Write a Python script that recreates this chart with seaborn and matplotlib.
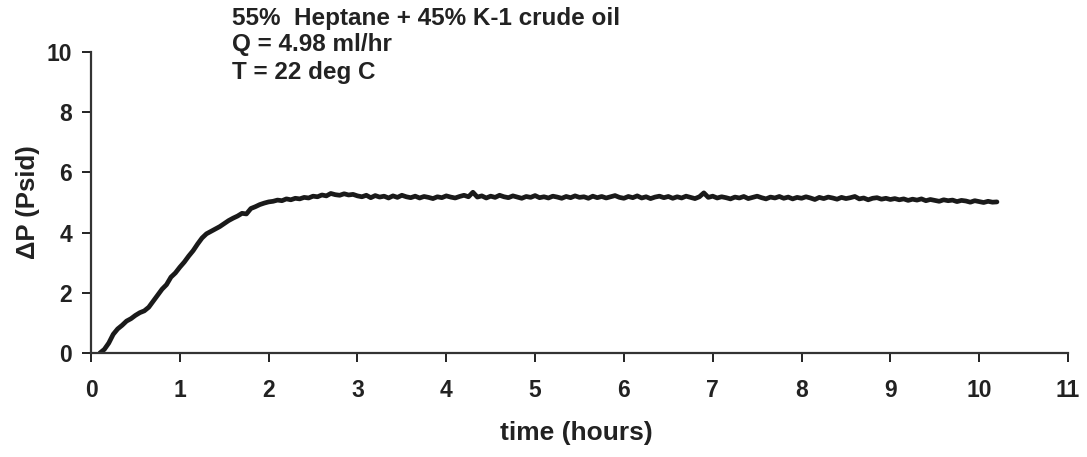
import matplotlib
matplotlib.use("Agg")
import matplotlib.pyplot as plt
import seaborn as sns
import pandas as pd

# ── data (every 0.05 h) ───────────────────────────────────────────────────────
time_h = [
    0.10, 0.15, 0.20, 0.25, 0.30, 0.35, 0.40, 0.45, 0.50, 0.55,
    0.60, 0.65, 0.70, 0.75, 0.80, 0.85, 0.90, 0.95, 1.00, 1.05,
    1.10, 1.15, 1.20, 1.25, 1.30, 1.35, 1.40, 1.45, 1.50, 1.55,
    1.60, 1.65, 1.70, 1.75, 1.80, 1.85, 1.90, 1.95, 2.00, 2.05,
    2.10, 2.15, 2.20, 2.25, 2.30, 2.35, 2.40, 2.45, 2.50, 2.55,
    2.60, 2.65, 2.70, 2.75, 2.80, 2.85, 2.90, 2.95, 3.00, 3.05,
    3.10, 3.15, 3.20, 3.25, 3.30, 3.35, 3.40, 3.45, 3.50, 3.55,
    3.60, 3.65, 3.70, 3.75, 3.80, 3.85, 3.90, 3.95, 4.00, 4.05,
    4.10, 4.15, 4.20, 4.25, 4.30, 4.35, 4.40, 4.45, 4.50, 4.55,
    4.60, 4.65, 4.70, 4.75, 4.80, 4.85, 4.90, 4.95, 5.00, 5.05,
    5.10, 5.15, 5.20, 5.25, 5.30, 5.35, 5.40, 5.45, 5.50, 5.55,
    5.60, 5.65, 5.70, 5.75, 5.80, 5.85, 5.90, 5.95, 6.00, 6.05,
    6.10, 6.15, 6.20, 6.25, 6.30, 6.35, 6.40, 6.45, 6.50, 6.55,
    6.60, 6.65, 6.70, 6.75, 6.80, 6.85, 6.90, 6.95, 7.00, 7.05,
    7.10, 7.15, 7.20, 7.25, 7.30, 7.35, 7.40, 7.45, 7.50, 7.55,
    7.60, 7.65, 7.70, 7.75, 7.80, 7.85, 7.90, 7.95, 8.00, 8.05,
    8.10, 8.15, 8.20, 8.25, 8.30, 8.35, 8.40, 8.45, 8.50, 8.55,
    8.60, 8.65, 8.70, 8.75, 8.80, 8.85, 8.90, 8.95, 9.00, 9.05,
    9.10, 9.15, 9.20, 9.25, 9.30, 9.35, 9.40, 9.45, 9.50, 9.55,
    9.60, 9.65, 9.70, 9.75, 9.80, 9.85, 9.90, 9.95, 10.00, 10.05,
    10.10, 10.15, 10.20,
]
dp_psid = [
    # ramp-up 0.10 - 3.00 h
    0.00, 0.12, 0.33, 0.62, 0.80, 0.92, 1.06, 1.14, 1.25, 1.34,
    1.40, 1.52, 1.72, 1.92, 2.12, 2.27, 2.52, 2.66, 2.85, 3.02,
    3.22, 3.40, 3.62, 3.82, 3.96, 4.04, 4.12, 4.20, 4.30, 4.40,
    4.48, 4.55, 4.64, 4.62, 4.80, 4.86, 4.93, 4.98, 5.02, 5.04,
    5.08, 5.06, 5.12, 5.09, 5.14, 5.12, 5.17, 5.15, 5.21, 5.19,
    5.25, 5.22, 5.30, 5.26, 5.24, 5.29, 5.25, 5.27, 5.22,
    # plateau 3.05 - 10.20 h
    5.19, 5.24, 5.16, 5.23, 5.18, 5.21, 5.15, 5.22, 5.17, 5.24, 5.19, 5.16,
    5.21, 5.15, 5.20, 5.17, 5.13, 5.19, 5.16, 5.22, 5.18, 5.15, 5.20, 5.24,
    5.19, 5.34, 5.18, 5.22, 5.15, 5.21, 5.17, 5.24, 5.19, 5.16, 5.22, 5.18,
    5.14, 5.20, 5.17, 5.23, 5.16, 5.19, 5.15, 5.21, 5.18, 5.14, 5.20, 5.16,
    5.22, 5.17, 5.19, 5.14, 5.21, 5.16, 5.20, 5.15, 5.19, 5.23, 5.17, 5.14,
    5.20, 5.16, 5.22, 5.15, 5.19, 5.13, 5.18, 5.21, 5.16, 5.20, 5.14, 5.19,
    5.15, 5.21, 5.17, 5.13, 5.19, 5.32, 5.17, 5.21, 5.15, 5.19, 5.16, 5.12,
    5.18, 5.15, 5.20, 5.13, 5.17, 5.21, 5.16, 5.12, 5.18, 5.15, 5.20, 5.14,
    5.18, 5.12, 5.17, 5.14, 5.19, 5.15, 5.10, 5.17, 5.13, 5.18, 5.15, 5.11,
    5.17, 5.13, 5.16, 5.20, 5.12, 5.15, 5.09, 5.14, 5.16, 5.11, 5.14, 5.10,
    5.13, 5.09, 5.12, 5.07, 5.11, 5.08, 5.12, 5.06, 5.10, 5.07, 5.04, 5.09,
    5.06, 5.08, 5.03, 5.07, 5.05, 5.01, 5.06, 5.03, 5.00, 5.04, 5.01, 5.02,
]
x_ticks = [0, 1, 2, 3, 4, 5, 6, 7, 8, 9, 10, 11]
y_ticks = [0, 2, 4, 6, 8, 10]
note_lines = [
    "55%  Heptane + 45% K-1 crude oil",
    "Q = 4.98 ml/hr",
    "T = 22 deg C",
]

assert len(time_h) == len(dp_psid)
df = pd.DataFrame({"time": time_h, "dp": dp_psid})

sns.set_style("ticks")
plt.rcParams["font.family"] = ["Liberation Sans", "DejaVu Sans"]
plt.rcParams["font.weight"] = "bold"

fig = plt.figure(figsize=(10.87, 4.57), dpi=100)
ax = fig.add_axes([91 / 1087, 104 / 457, 977 / 1087, 301 / 457])

sns.lineplot(data=df, x="time", y="dp", ax=ax, color="#1a1a1a", lw=3.4,
             estimator=None)

ax.set_xlim(0, 11)
ax.set_ylim(0, 10)
ax.set_xticks(x_ticks)
ax.set_yticks(y_ticks)
ax.tick_params(axis="y", length=6.5, width=1.4, pad=7, labelsize=16.5, colors="#222222")
ax.tick_params(axis="x", length=6.5, width=1.4, pad=12, labelsize=16.5, colors="#222222")
for lab in ax.get_xticklabels() + ax.get_yticklabels():
    lab.set_fontweight("bold")

sns.despine(ax=ax)
for side in ["left", "bottom"]:
    ax.spines[side].set_linewidth(1.6)
    ax.spines[side].set_color("#333333")

ax.set_xlabel("time (hours)", fontsize=19, fontweight="bold", color="#222222")
ax.set_ylabel("ΔP (Psid)", fontsize=18.5, fontweight="bold", color="#222222")
ax.xaxis.set_label_coords(0.497, -0.225)
ax.yaxis.set_label_coords(-0.052, 0.5)

for i, line in enumerate(note_lines):
    fig.text(232 / 1087, 1 - (18 + 27 * i) / 457, line, ha="left", va="center",
             fontsize=17.5, fontweight="bold", color="#222222")

plt.savefig("out.png", dpi=100)
plt.close()
